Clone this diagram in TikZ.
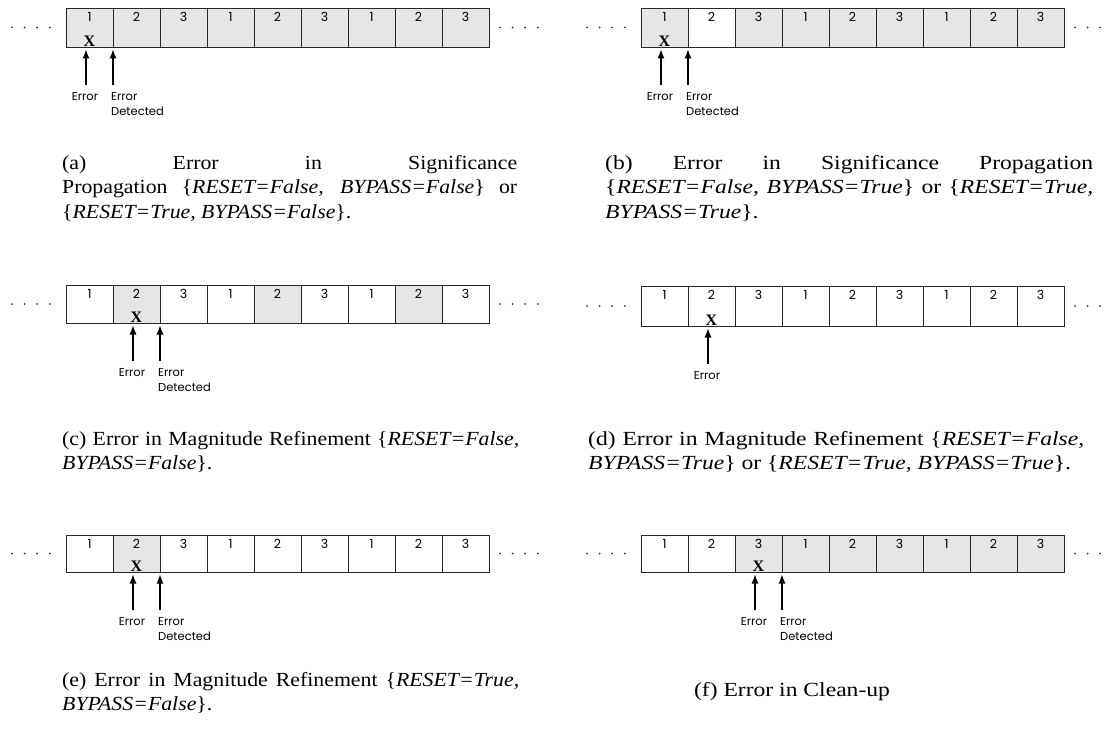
\documentclass[tikz,border=0pt]{standalone}
\usepackage{fontspec}
\setmainfont{Liberation Serif}
\newfontfamily\lblfont{Poppins}
\newfontfamily\capleft[FakeStretch=1.09]{Liberation Serif}
\newfontfamily\capright[FakeStretch=1.18]{Liberation Serif}
\usetikzlibrary{arrows.meta}
\definecolor{cellgray}{HTML}{E6E6E6}
\tikzset{
 cellbox/.style={draw=black!85, line width=0.8pt, minimum width=47pt, inner sep=0pt, outer sep=0pt, anchor=north west},
 num/.style={font=\lblfont\fontsize{12.5}{13}\selectfont, inner sep=0pt, anchor=north},
 xmark/.style={font=\bfseries\fontsize{16}{16}\selectfont, inner sep=0pt, anchor=base},
 lbl/.style={font=\lblfont\fontsize{11.5}{15}\selectfont, inner sep=0pt, align=left},
 arr/.style={-{Latex[length=9pt,width=7pt]}, line width=1.1pt},
 captext/.style={inner sep=0pt, anchor=north west, align=justify},
 capL/.style={captext, font=\capleft\fontsize{20}{24.5}\selectfont},
 capR/.style={captext, font=\capright\fontsize{20}{24.5}\selectfont},
 dotmark/.style={fill=black!80}
}
\newcommand\cellstrip[5]{%
 \foreach \c [count=\i] in {#5} {
   \pgfmathtruncatemacro\n{mod(\i-1,3)+1}
   \node[cellbox, fill=\c, minimum height=#4pt] (#1\i) at ({#2+47*(\i-1)},#3) {};
   \node[num] at ([yshift=-4pt]#1\i.north) {\n};
 }
 \foreach \k in {0,...,3} {
   \fill[dotmark] ({#2-54+12.6*\k},{#3+#4/2}) circle (1pt);
   \fill[dotmark] ({#2+434+12.6*\k},{#3+#4/2}) circle (1pt);
 }
}
% #1 prefix, #2 error cell, #3 show detected (1/0)
\newcommand\errmarks[3]{%
 \node[xmark] (#1X) at ([yshift=0.8pt]#1#2.south) {X};
 \coordinate (#1Et) at ([xshift=-3.5pt,yshift=-2.5pt]#1#2.south);
 \coordinate (#1Eb) at ([xshift=-3.5pt,yshift=-38pt]#1#2.south);
 \node[lbl,anchor=north] (#1El) at ([xshift=-1pt,yshift=-7pt]#1Eb) {Error};
 \draw[arr] (#1Eb) -- (#1Et);
 \ifnum#3=1
 \coordinate (#1Dt) at ([yshift=-2.5pt]#1#2.south east);
 \coordinate (#1Db) at ([yshift=-38pt]#1#2.south east);
 \node[lbl,anchor=north west] (#1Dl) at ([xshift=-2pt,yshift=-7pt]#1Db) {Error\\Detected};
 \draw[arr] (#1Db) -- (#1Dt);
 \fi
}
\begin{document}
\begin{tikzpicture}[x=1pt,y=-1pt]
\useasboundingbox (0,0) rectangle (1110,730);
% (a)
\cellstrip{a}{66}{8}{39}{cellgray,cellgray,cellgray,cellgray,cellgray,cellgray,cellgray,cellgray,cellgray}
\errmarks{a}{1}{1}
\node[capL, text width=455pt] (capA) at (62,155) {(a) Error in Significance\linebreak Propagation \{\textit{RESET=False, BYPASS=False}\} or\linebreak \{\textit{RESET=True, BYPASS=False}\}.};
% (b)
\cellstrip{b}{641}{8}{39}{cellgray,white,cellgray,cellgray,cellgray,cellgray,cellgray,cellgray,cellgray}
\errmarks{b}{1}{1}
\node[capR, text width=488pt] (capB) at (605,155) {(b) Error in Significance Propagation\linebreak \{\textit{RESET=False, BYPASS=True}\} or \{\textit{RESET=True,}\linebreak \textit{BYPASS=True}\}.};
% (c)
\cellstrip{c}{66}{285}{38}{white,cellgray,white,white,cellgray,white,white,cellgray,white}
\errmarks{c}{2}{1}
\node[capL, text width=457pt] (capC) at (62,431) {(c) Error in Magnitude Refinement \{\textit{RESET=False,}\linebreak \textit{BYPASS=False}\}.};
% (d)
\cellstrip{d}{641}{286}{40}{white,white,white,white,white,white,white,white,white}
\errmarks{d}{2}{0}
\node[capR, text width=496pt] (capD) at (588,431) {(d) Error in Magnitude Refinement \{\textit{RESET=False,}\linebreak \textit{BYPASS=True}\} or \{\textit{RESET=True, BYPASS=True}\}.};
% (e)
\cellstrip{e}{66}{535}{37}{white,cellgray,white,white,white,white,white,white,white}
\errmarks{e}{2}{1}
\node[capL, text width=457pt] (capE) at (62,672) {(e) Error in Magnitude Refinement \{\textit{RESET=True,}\linebreak \textit{BYPASS=False}\}.};
% (f)
\cellstrip{f}{641}{535}{37}{white,white,cellgray,cellgray,cellgray,cellgray,cellgray,cellgray,cellgray}
\errmarks{f}{3}{1}
\node[font=\capright\fontsize{20}{24.5}\selectfont, inner sep=0pt] (capF) at (792,692) {(f) Error in Clean-up};
\end{tikzpicture}
\end{document}
